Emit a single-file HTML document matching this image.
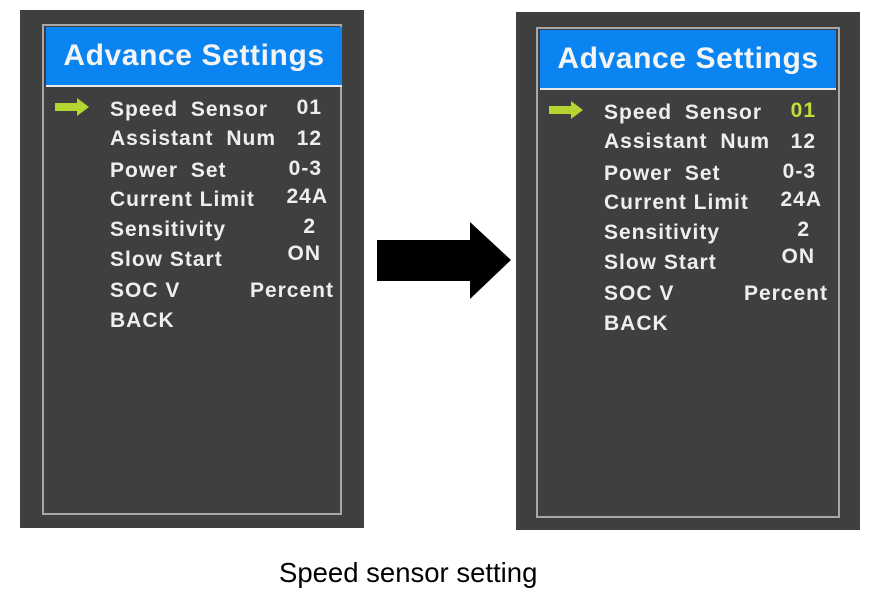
<!DOCTYPE html>
<html><head><meta charset="utf-8"><style>
body{margin:0;background:#fff;width:870px;height:600px;position:relative;overflow:hidden;font-family:"Liberation Sans",sans-serif}
.scr{position:absolute;background:#3f3f3f;width:344px;height:518px}
.ib{position:absolute;left:22px;top:14px;width:296px;height:487px;border:2px solid #a8a8a8}
.bl{position:absolute;left:26px;top:17px;width:296px;height:58px;background:#0a84f0;border-bottom:2px solid #e8e8e8}
.tt{position:absolute;left:26px;top:17px;width:296px;height:58px;line-height:58px;text-align:center;color:#f4f4f4;font-weight:bold;font-size:30px;letter-spacing:0.6px}
.t{position:absolute;color:#eee;font-weight:bold;font-size:21px;line-height:21px;white-space:nowrap;letter-spacing:1px}
.v{position:absolute;color:#eee;font-weight:bold;font-size:21px;line-height:21px;text-align:right;width:100px;white-space:nowrap;letter-spacing:1px}
.ar{position:absolute;left:35px;top:88px}
</style></head><body>

<div class="scr" style="left:20px;top:10px">
<div class="ib"></div><div class="bl"></div><div class="tt">Advance Settings</div>
<svg class="ar" width="36" height="18"><polygon points="0,5 22,5 22,0 34,9 22,18 22,13 0,13" fill="#b5d531"/></svg>
<div class="t" style="left:90px;top:89px;word-spacing:6px">Speed Sensor</div><div class="v" style="left:202px;top:87px">01</div>
<div class="t" style="left:90px;top:118px;word-spacing:6px">Assistant Num</div><div class="v" style="left:202px;top:118px">12</div>
<div class="t" style="left:90px;top:150px;word-spacing:6px">Power Set</div><div class="v" style="left:202px;top:148px">0-3</div>
<div class="t" style="left:90px;top:179px">Current Limit</div><div class="v" style="left:208px;top:176px">24A</div>
<div class="t" style="left:90px;top:209px">Sensitivity</div><div class="v" style="left:196px;top:206px">2</div>
<div class="t" style="left:90px;top:239px">Slow Start</div><div class="v" style="left:201px;top:233px">ON</div>
<div class="t" style="left:90px;top:270px">SOC V</div><div class="v" style="left:214px;top:270px">Percent</div>
<div class="t" style="left:90px;top:300px">BACK</div>
</div>

<svg style="position:absolute;left:376px;top:221px" width="138" height="80"><polygon points="1,19 94,19 94,1 135,39 94,78 94,60 1,60" fill="#000"/></svg>

<div class="scr" style="left:516px;top:12px">
<div class="ib" style="left:20px;top:15px;width:300px"></div><div class="bl" style="left:24px;top:18px;width:296px"></div><div class="tt" style="left:24px;top:18px">Advance Settings</div>
<svg class="ar" width="36" height="18" style="left:33px;top:89px"><polygon points="0,5 22,5 22,0 34,9 22,18 22,13 0,13" fill="#b5d531"/></svg>
<div class="t" style="left:88px;top:90px;word-spacing:6px">Speed Sensor</div><div class="v" style="left:200px;top:88px;color:#c6dc3a">01</div>
<div class="t" style="left:88px;top:119px;word-spacing:6px">Assistant Num</div><div class="v" style="left:200px;top:119px">12</div>
<div class="t" style="left:88px;top:151px;word-spacing:6px">Power Set</div><div class="v" style="left:200px;top:149px">0-3</div>
<div class="t" style="left:88px;top:180px">Current Limit</div><div class="v" style="left:206px;top:177px">24A</div>
<div class="t" style="left:88px;top:210px">Sensitivity</div><div class="v" style="left:194px;top:207px">2</div>
<div class="t" style="left:88px;top:240px">Slow Start</div><div class="v" style="left:199px;top:234px">ON</div>
<div class="t" style="left:88px;top:271px">SOC V</div><div class="v" style="left:212px;top:271px">Percent</div>
<div class="t" style="left:88px;top:301px">BACK</div>
</div>

<div style="position:absolute;left:279px;top:557px;font-size:27.5px;color:#000;white-space:nowrap">Speed sensor setting</div>
</body></html>
